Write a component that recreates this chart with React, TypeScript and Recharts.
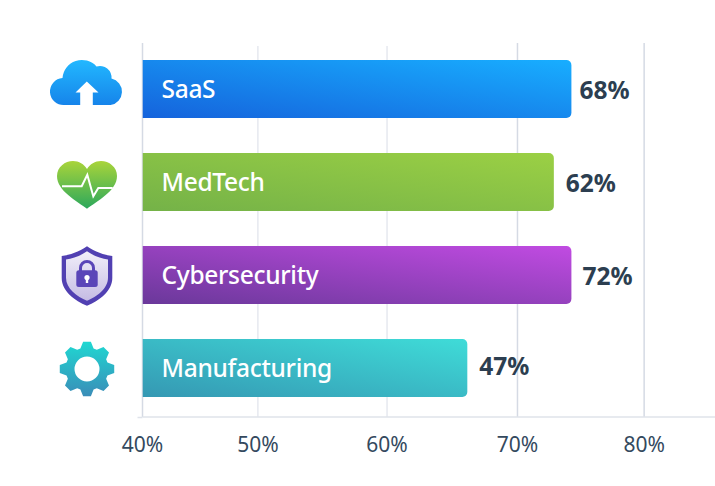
import { BarChart, Bar, XAxis, YAxis, CartesianGrid, Cell, LabelList } from "recharts"

const categories = ["SaaS", "MedTech", "Cybersecurity", "Manufacturing"]
// where each bar ends when read against the gridlines
const barEnds = [74.2, 72.8, 74.2, 65.9]
// the numbers printed next to the bars
const printedValues = ["68%", "62%", "72%", "47%"]
const tickValues = [40, 49.2, 59.5, 69.9, 80]
const tickLabels = ["40%", "50%", "60%", "70%", "80%"]

const gradients = [
  ["#1563dc", "#18aeff"],
  ["#74b248", "#9bd044"],
  ["#6a389a", "#c14be2"],
  ["#3598b3", "#3fdcd8"],
]

// small nudges for the printed values, the gaps are not even in the picture
const valueNudges = [[8, 1], [12, 1], [11, 0.5], [12, -2]]

const data = categories.map((name, i) => ({ name, end: barEnds[i], printed: printedValues[i] }))

const TEXT = "'Noto Sans', sans-serif"
const ICON_X = 87

function gearPath() {
  const teeth = 8
  const pts: string[] = []
  for (let i = 0; i < teeth; i++) {
    const a = (i * 2 * Math.PI) / teeth - Math.PI / 2
    const step = (2 * Math.PI) / teeth
    const corners: [number, number][] = [
      [21.5, -0.27 * step - 0.1],
      [27.5, -0.27 * step + 0.07],
      [27.5, 0.27 * step - 0.07],
      [21.5, 0.27 * step + 0.1],
    ]
    corners.forEach(([r, d]) => {
      pts.push(`${(r * Math.cos(a + d)).toFixed(2)} ${(r * Math.sin(a + d)).toFixed(2)}`)
    })
  }
  return `M ${pts.join(" L ")} Z M 12.5 0 A 12.5 12.5 0 1 0 -12.5 0 A 12.5 12.5 0 1 0 12.5 0 Z`
}

function CloudIcon() {
  return (
    <g transform="translate(0.5,-7)">
      <path
        d="M -23 23.5 A 13.5 13.5 0 0 1 -25 -3.5 A 19.5 19.5 0 0 1 9 -15 A 11.5 11.5 0 0 1 24 -3 A 13.5 13.5 0 0 1 23 23.5 Z"
        fill="url(#iconCloud)"
      />
      <path d="M -0.7 0 L 11 11 L 5.3 11 L 5.3 23.5 L -7.3 23.5 L -7.3 11 L -12 11 Z" fill="#fff" />
    </g>
  )
}

function HeartIcon() {
  return (
    <g transform="translate(0,3.5)">
      <path
        d="M 0 23.8 C -10 16 -30 6 -30 -9 C -30 -18 -22 -24 -14 -24 C -8 -24 -3 -21 0 -16 C 3 -21 8 -24 14 -24 C 22 -24 30 -18 30 -9 C 30 6 10 16 0 23.8 Z"
        fill="url(#iconHeart)"
      />
      <polyline
        points="-25,1.3 -5.3,1.3 0.3,-10.3 6.3,11.3 11.3,3 25.7,3"
        fill="none"
        stroke="#fff"
        strokeWidth={2}
      />
    </g>
  )
}

const SHIELD = "M 0 -29.7 C 8 -24 17 -21 25.3 -20 L 25.3 2 C 25.3 15 12 25 0 29.7 C -12 25 -25.3 15 -25.3 2 L -25.3 -20 C -17 -21 -8 -24 0 -29.7 Z"

function ShieldIcon() {
  return (
    <g transform="translate(0,1.5)">
      <path d={SHIELD} fill="#5140b2" />
      <path d={SHIELD} fill="url(#iconShield)" transform="scale(0.83)" />
      <path d="M -6.5 -5 L -6.5 -8 A 6.5 6.5 0 0 1 6.5 -8 L 6.5 -5" fill="none" stroke="#5a45b8" strokeWidth={3} />
      <rect x={-10.7} y={-5.7} width={21.4} height={16.7} rx={2.5} fill="#5a45b8" />
      <circle cx={0} cy={1.5} r={2.6} fill="#fff" />
      <rect x={-1.2} y={2} width={2.4} height={5} fill="#fff" />
    </g>
  )
}

function GearIcon() {
  return (
    <g transform="translate(0,1.5)">
      <path d={gearPath()} fill="url(#iconGear)" fillRule="evenodd" />
    </g>
  )
}

const icons = [CloudIcon, HeartIcon, ShieldIcon, GearIcon]

function IconTick(props: any) {
  const Icon = icons[props.index]
  return (
    <g transform={`translate(${ICON_X},${props.y})`}>
      <Icon />
    </g>
  )
}

function AxisTick(props: any) {
  return (
    <g>
      {props.index === 0 && (
        <line x1={props.x - 5} x2={props.x} y1={417.5} y2={417.5} stroke="#dfe3ea" strokeWidth={1.5} />
      )}
      <text x={props.x} y={452} textAnchor="middle" fontFamily={TEXT} fontSize={21} fill="#34495e">
        {tickLabels[props.index]}
      </text>
    </g>
  )
}

function GridLine(props: any) {
  // the grid also hands over a line at the far edge of the plot, the picture has none
  if (props.index >= tickValues.length) return null
  const edge = props.index === 0 || props.index === 3 || props.index === 4
  return (
    <line
      x1={props.x1}
      x2={props.x2}
      y1={edge ? props.y1 + 1 : props.y1 + 4}
      y2={props.y2}
      stroke={edge ? "#d5dae4" : "#e6e9ef"}
      strokeWidth={1.5}
    />
  )
}

function NameLabel(props: any) {
  return (
    <text
      x={props.x + 19}
      y={props.y + props.height / 2 + 9}
      fontFamily={TEXT}
      fontWeight={500}
      fontSize={24.5}
      letterSpacing={-0.3}
      fill="#fff"
    >
      {props.value}
    </text>
  )
}

function ValueLabel(props: any) {
  const [dx, dy] = valueNudges[props.index]
  return (
    <text
      x={props.x + props.width + dx}
      y={props.y + props.height / 2 + 9 + dy}
      fontFamily={TEXT}
      fontWeight={700}
      fontSize={24.5}
      fill="#2c3e50"
    >
      {props.value}
    </text>
  )
}

export default function App() {
  return (
    <div style={{ position: "absolute", left: 0, top: 0, width: 715, height: 486, background: "#fff" }}>
      <BarChart
        width={715}
        height={486}
        data={data}
        layout="vertical"
        margin={{ top: 42, right: 0, bottom: 0, left: 0 }}
      >
        <defs>
          {gradients.map((g, i) => (
            <linearGradient key={i} id={`bar${i}`} x1="0" y1="1" x2="1" y2="0">
              <stop offset="0%" stopColor={g[0]} />
              <stop offset="100%" stopColor={g[1]} />
            </linearGradient>
          ))}
          <linearGradient id="iconCloud" x1="0" y1="0" x2="0" y2="1">
            <stop offset="0%" stopColor="#22b8ff" />
            <stop offset="100%" stopColor="#1684ea" />
          </linearGradient>
          <linearGradient id="iconHeart" x1="0" y1="0" x2="0" y2="1">
            <stop offset="0%" stopColor="#a9d43a" />
            <stop offset="100%" stopColor="#2ca85c" />
          </linearGradient>
          <linearGradient id="iconShield" x1="0" y1="0" x2="0" y2="1">
            <stop offset="0%" stopColor="#f1eef9" />
            <stop offset="100%" stopColor="#c5bce4" />
          </linearGradient>
          <linearGradient id="iconGear" x1="0" y1="0" x2="0" y2="1">
            <stop offset="0%" stopColor="#1fd8d2" />
            <stop offset="100%" stopColor="#3a8db8" />
          </linearGradient>
        </defs>
        <CartesianGrid horizontal={false} vertical={(p: any) => <GridLine key={p.index} {...p} />} />
        <XAxis
          type="number"
          domain={[40, 85.65]}
          allowDataOverflow
          ticks={tickValues}
          interval={0}
          height={69}
          tickLine={false}
          axisLine={{ stroke: "#dfe3ea", strokeWidth: 1.5 }}
          tick={(p: any) => <AxisTick {...p} />}
        />
        <YAxis
          type="category"
          dataKey="name"
          width={142.5}
          axisLine={false}
          tickLine={false}
          padding={{ top: 0, bottom: 3 }}
          tick={(p: any) => <IconTick {...p} />}
        />
        <Bar dataKey="end" barSize={58} radius={[0, 5, 5, 0]} isAnimationActive={false}>
          {data.map((d, i) => (
            <Cell key={d.name} fill={`url(#bar${i})`} />
          ))}
          <LabelList dataKey="name" content={(p: any) => <NameLabel {...p} />} />
          <LabelList dataKey="printed" content={(p: any) => <ValueLabel {...p} />} />
        </Bar>
      </BarChart>
    </div>
  )
}
